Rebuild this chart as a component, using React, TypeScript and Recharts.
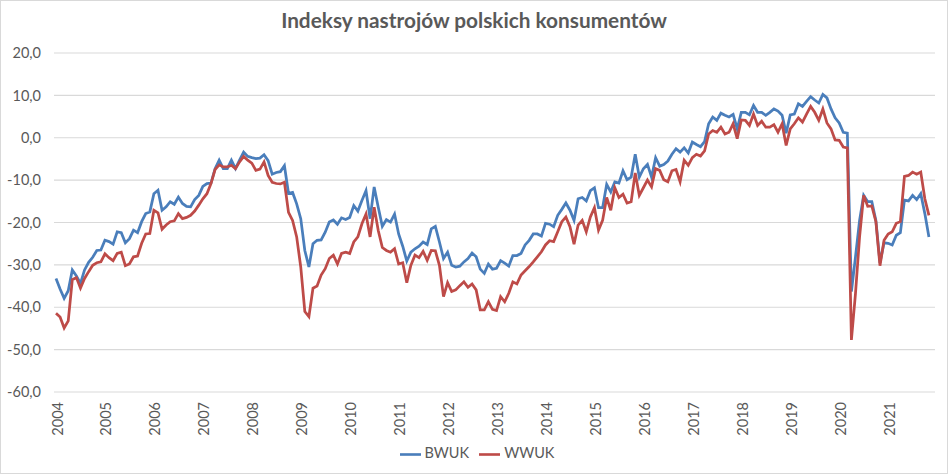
import React from 'react';
import { LineChart, Line, XAxis, YAxis, CartesianGrid, Legend } from 'recharts';

const years = ['2004', '2005', '2006', '2007', '2008', '2009', '2010', '2011', '2012', '2013', '2014', '2015', '2016', '2017', '2018', '2019', '2020', '2021'];
const monthCodes = ['01', '02', '03', '04', '05', '06', '07', '08', '09', '10', '11', '12'];
const categories = years.flatMap((y) => monthCodes.map((m) => `${y}-${m}`));

const yTicks = [-60, -50, -40, -30, -20, -10, 0, 10, 20];

const bwuk = [
  -33.2, -35.7, -37.9, -36.1, -31.2, -32.6, -34.4, -31.2, -29.4, -28.2, -26.6, -26.5,
  -24.2, -24.5, -25.1, -22.2, -22.4, -24.8, -23.8, -21.8, -22.4, -19.8, -17.9, -17.5,
  -13.2, -12.4, -17.1, -16.3, -15.1, -15.7, -14.0, -15.5, -16.2, -16.3, -14.6, -13.6,
  -11.5, -10.8, -10.7, -7.3, -5.3, -7.3, -7.3, -5.3, -7.3, -5.3, -3.4, -4.4,
  -4.7, -4.9, -4.8, -4.0, -5.4, -8.6, -8.2, -8.0, -6.6, -13.1, -12.9, -15.6,
  -19.1, -26.6, -30.5, -25.0, -24.2, -24.1, -22.3, -19.9, -19.4, -20.4, -18.9, -19.3,
  -18.8, -16.0, -17.3, -14.8, -12.5, -19.1, -11.6, -16.4, -20.9, -19.3, -19.9, -18.0,
  -22.7, -25.6, -29.1, -27.0, -26.2, -25.6, -24.6, -25.2, -21.5, -20.9, -24.6, -28.5,
  -27.0, -30.1, -30.5, -30.3, -29.3, -28.5, -27.2, -28.1, -31.0, -32.0, -29.8, -31.0,
  -30.8, -29.0, -29.6, -30.3, -27.8, -27.8, -27.3, -25.3, -24.2, -22.7, -22.7, -23.2,
  -20.2, -20.4, -21.0, -18.3, -16.9, -15.4, -17.1, -19.5, -14.4, -14.1, -14.9, -12.5,
  -11.8, -16.5, -16.5, -11.0, -12.8, -10.4, -10.7, -7.8, -9.9, -9.3, -3.9, -9.3,
  -7.3, -6.3, -9.3, -4.7, -6.7, -6.3, -5.5, -3.9, -2.6, -3.4, -2.4, -3.6,
  -1.0, -1.6, -2.1, -0.9, 3.3, 4.9, 4.1, 5.8, 5.3, 4.9, 5.5, 2.1,
  6.0, 6.0, 5.4, 7.6, 6.0, 6.0, 5.3, 6.0, 6.8, 6.3, 5.3, 1.1,
  5.4, 5.6, 8.0, 7.4, 8.6, 9.7, 8.9, 8.2, 10.2, 9.4, 6.8, 4.7,
  3.5, 1.3, 1.1, -36.3, -28.1, -19.5, -13.6, -15.1, -15.1, -19.5, -29.5, -24.8,
  -24.9, -25.3, -23.0, -22.4, -14.7, -14.9, -13.6, -14.6, -13.2, -17.9, -23.4,
];

const wwuk = [
  -41.4, -42.3, -44.9, -43.2, -33.5, -33.0, -35.5, -33.2, -31.6, -30.1, -29.5, -29.3,
  -27.4, -28.3, -29.0, -27.3, -27.0, -30.2, -29.8, -28.1, -27.9, -24.9, -22.7, -22.6,
  -17.1, -17.7, -21.6, -20.6, -19.8, -19.6, -17.9, -19.1, -18.8, -18.3, -17.3, -15.9,
  -14.4, -13.2, -10.8, -7.5, -6.4, -6.9, -6.9, -6.5, -7.3, -5.7, -4.4, -5.3,
  -6.0, -7.7, -7.4, -5.7, -8.9, -10.5, -10.8, -10.9, -10.5, -17.6, -19.5, -23.4,
  -30.5, -41.0, -42.2, -35.5, -35.0, -32.4, -30.9, -28.5, -27.7, -29.8, -27.3, -27.0,
  -27.3, -24.6, -23.4, -20.3, -18.0, -23.4, -16.4, -21.9, -25.9, -26.6, -27.0, -26.2,
  -29.8, -29.5, -34.2, -30.1, -27.7, -28.3, -26.8, -28.9, -26.6, -26.7, -30.1, -37.5,
  -34.2, -36.3, -35.9, -34.9, -34.0, -35.3, -34.5, -35.9, -40.6, -40.6, -38.7, -40.5,
  -40.8, -37.5, -38.7, -36.7, -34.0, -34.5, -32.4, -31.4, -30.4, -29.3, -28.1, -26.9,
  -25.3, -24.3, -24.5, -22.2, -19.8, -18.7, -21.0, -25.1, -20.6, -19.5, -22.2, -18.7,
  -16.5, -21.8, -19.5, -14.1, -17.1, -11.8, -14.1, -13.3, -15.4, -15.1, -8.3, -13.6,
  -11.8, -10.0, -11.6, -7.3, -7.7, -9.9, -10.4, -7.8, -7.5, -10.4, -5.3, -6.5,
  -4.7, -3.9, -4.3, -3.1, 0.9, 1.7, 1.3, 2.5, 0.9, 1.3, 3.3, -0.2,
  4.2, 4.1, 2.9, 5.6, 2.9, 3.9, 2.5, 2.5, 3.1, 1.3, 3.3, -1.8,
  2.1, 3.3, 4.7, 3.7, 5.6, 7.4, 6.0, 4.1, 6.8, 3.5, 2.1, -0.5,
  -0.6, -2.2, -2.4, -47.7, -36.7, -23.4, -13.6, -16.2, -16.1, -19.8, -30.2, -24.2,
  -22.7, -22.2, -20.2, -19.8, -9.1, -8.9, -8.1, -8.6, -8.1, -14.4, -18.3,
];

const data = categories.map((month, i) => ({
  month,
  BWUK: i < bwuk.length ? bwuk[i] : null,
  WWUK: i < wwuk.length ? wwuk[i] : null,
}));

const TEXT = '#595959';
const FONT = 'Lato, "Liberation Sans", sans-serif';

const XTick = (props: any) => {
  const { x, y, payload } = props;
  const label = String(payload.value).slice(0, 4);
  const cx = x + 1;
  return (
    <text
      x={cx}
      y={y}
      transform={`rotate(-90 ${cx} ${y})`}
      textAnchor="end"
      dominantBaseline="central"
      fill={TEXT}
      fontSize={14.5}
      fontFamily={FONT}
    >
      {label}
    </text>
  );
};

export default function App() {
  return (
    <div style={{ position: 'absolute', left: 0, top: 0, width: 948, height: 474, background: '#fff' }}>
      <LineChart width={948} height={474} data={data} margin={{ top: 53, right: 13, bottom: 0, left: 0 }}>
        <CartesianGrid horizontal={true} vertical={false} stroke="#d9d9d9" strokeWidth={1.2} />
        <XAxis
          dataKey="month"
          interval={11}
          tick={<XTick />}
          tickLine={false}
          axisLine={false}
          tickSize={0}
          tickMargin={10}
          height={82}
          padding={{ left: 2, right: 2 }}
        />
        <YAxis
          domain={[-60, 20]}
          ticks={yTicks}
          interval={0}
          width={54}
          tickSize={0}
          tickMargin={13}
          axisLine={false}
          tickLine={false}
          tickFormatter={(v: number) => v.toFixed(1).replace('.', ',')}
          tick={{ fill: TEXT, fontSize: 14.5, fontFamily: FONT }}
        />
        <Legend
          verticalAlign="middle"
          align="center"
          layout="horizontal"
          iconType="plainline"
          iconSize={21}
          wrapperStyle={{ top: 444, left: 8, width: 948, fontFamily: FONT, fontSize: 14.5 }}
          formatter={(value: string) => <span style={{ color: TEXT }}>{value}</span>}
        />
        <Line
          type="linear"
          dataKey="BWUK"
          stroke="#4A7EBB"
          strokeWidth={2.75}
          dot={false}
          activeDot={false}
          isAnimationActive={false}
        />
        <Line
          type="linear"
          dataKey="WWUK"
          stroke="#BE4B48"
          strokeWidth={2.75}
          dot={false}
          activeDot={false}
          isAnimationActive={false}
        />
      </LineChart>
      <div
        style={{
          position: 'absolute',
          left: 0,
          top: 8,
          width: 948,
          textAlign: 'center',
          fontFamily: FONT,
          fontWeight: 700,
          fontSize: 20.8,
          lineHeight: '23px',
          color: TEXT,
          pointerEvents: 'none',
        }}
      >
        Indeksy nastrojów polskich konsumentów
      </div>
      <div
        style={{
          position: 'absolute',
          left: 0,
          top: 0,
          width: 948,
          height: 474,
          boxSizing: 'border-box',
          border: '1px solid #d9d9d9',
          pointerEvents: 'none',
        }}
      />
    </div>
  );
}
